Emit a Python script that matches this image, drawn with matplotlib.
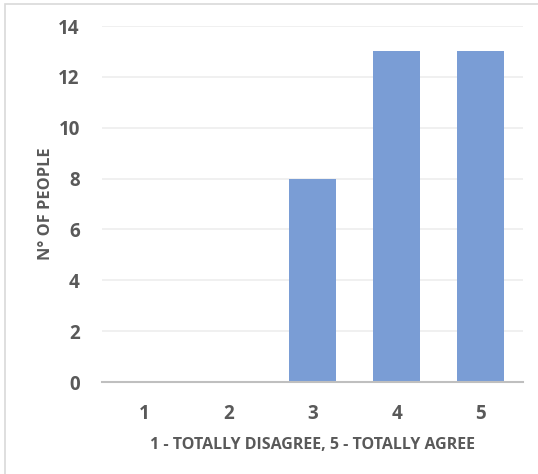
import matplotlib.pyplot as plt
from matplotlib.patches import Rectangle

categories = ['1', '2', '3', '4', '5']
counts = [0, 0, 8, 13, 13]
yticks = [0, 2, 4, 6, 8, 10, 12, 14]

text_color = '#595959'
bar_color = '#7A9DD5'

plt.rcParams['font.family'] = ['Open Sans', 'DejaVu Sans']
plt.rcParams['font.weight'] = 'bold'

fig = plt.figure(figsize=(5.38, 4.74), dpi=100)
ax = fig.add_axes([102 / 538, 1 - 382 / 474, 421 / 538, 356 / 474])

x = range(len(categories))
ax.bar(x, counts, width=0.56, color=bar_color, zorder=3)

ax.set_xlim(-0.5, 4.5)
ax.set_ylim(0, 14)
ax.set_xticks(list(x))
ax.set_xticklabels(categories, fontweight='bold')
ax.set_yticks(yticks)
ax.set_yticklabels([str(v) for v in yticks], fontweight='bold')
ax.grid(axis='y', color='#EDEDED', linewidth=1.2, zorder=0)
ax.tick_params(length=0, labelsize=13.5, labelcolor=text_color)
ax.tick_params(axis='x', pad=16)
ax.tick_params(axis='y', pad=16)

for side in ['top', 'right', 'left']:
    ax.spines[side].set_visible(False)
ax.spines['bottom'].set_color('#BFBFBF')
ax.spines['bottom'].set_linewidth(1.5)
ax.spines['bottom'].set_zorder(4)

ax.set_xlabel('1 - TOTALLY DISAGREE, 5 - TOTALLY AGREE', fontweight='bold',
              fontsize=11.5, color=text_color, labelpad=9)
ax.set_ylabel('N° OF PEOPLE', fontweight='bold',
              fontsize=11.8, color=text_color, labelpad=3)

# light frame around the chart area
fig.patches.append(Rectangle((5 / 538, -0.1), 1.2, 1 - 4 / 474 + 0.1,
                             transform=fig.transFigure, fill=False,
                             edgecolor='#D9D9D9', linewidth=1.2))

fig.savefig('out.png', dpi=100)
